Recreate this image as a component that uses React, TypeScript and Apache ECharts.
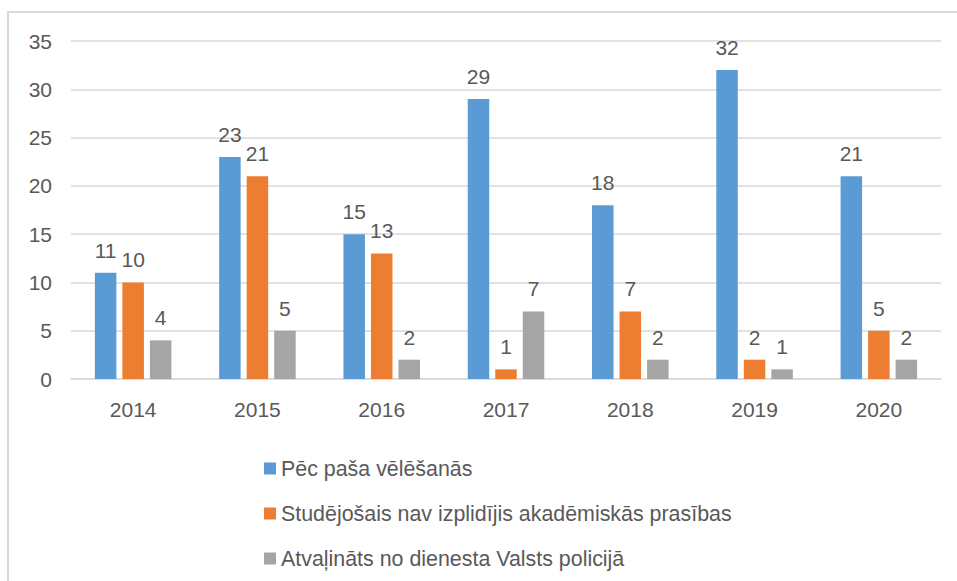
import React, { useEffect, useRef } from "react";
import * as echarts from "echarts";

const years = ["2014", "2015", "2016", "2017", "2018", "2019", "2020"];
const seriesNames = [
  "Pēc paša vēlēšanās",
  "Studējošais nav izplidījis akadēmiskās prasības",
  "Atvaļināts no dienesta Valsts policijā",
];
const pecPasa = [11, 23, 15, 29, 18, 32, 21];
const studejosais = [10, 21, 13, 1, 7, 2, 5];
const atvalinats = [4, 5, 2, 7, 2, 1, 2];
const colors = ["#5B9BD5", "#ED7D31", "#A5A5A5"];

const FONT = "'Liberation Sans', Arial, sans-serif";
const TEXT = "#595959";

export default function App() {
  const ref = useRef<HTMLDivElement>(null);
  useEffect(() => {
    if (!ref.current) return;
    const chart = echarts.init(ref.current, undefined, { renderer: "svg" });
    const data = [pecPasa, studejosais, atvalinats];
    chart.setOption({
      animation: false,
      backgroundColor: "#ffffff",
      textStyle: { fontFamily: FONT },
      grid: { left: 71, right: 16, top: 41, bottom: 202, containLabel: false },
      graphic: [
        {
          type: "rect",
          shape: { x: 8, y: 12, width: 1200, height: 1000 },
          style: { fill: "none", stroke: "#D9D9D9", lineWidth: 2 },
          silent: true,
        },
      ],
      legend: {
        orient: "vertical",
        left: 259,
        top: 453,
        icon: "rect",
        itemWidth: 12,
        itemHeight: 12,
        itemGap: 24,
        textStyle: { color: TEXT, fontSize: 21.4, fontFamily: FONT, lineHeight: 21 },
        data: seriesNames,
      },
      xAxis: {
        type: "category",
        data: years,
        axisLine: { lineStyle: { color: "#D9D9D9", width: 1.5 } },
        axisTick: { show: false },
        axisLabel: { color: TEXT, fontSize: 21, margin: 20, fontFamily: FONT },
      },
      yAxis: {
        type: "value",
        min: 0,
        max: 35,
        interval: 5,
        axisLine: { show: false },
        axisTick: { show: false },
        splitLine: { lineStyle: { color: "#D9D9D9", width: 1.5 } },
        axisLabel: { color: TEXT, fontSize: 21, margin: 19, fontFamily: FONT },
      },
      series: seriesNames.map((name, i) => ({
        name,
        type: "bar",
        data: data[i],
        barWidth: 21.5,
        barGap: "28%",
        itemStyle: { color: colors[i] },
        label: {
          show: true,
          position: "top",
          distance: 12,
          color: TEXT,
          fontSize: 21,
          fontFamily: FONT,
        },
      })),
    });
    return () => chart.dispose();
  }, []);
  return (
    <div
      ref={ref}
      style={{ position: "fixed", left: 0, top: 0, width: 957, height: 581 }}
    />
  );
}
